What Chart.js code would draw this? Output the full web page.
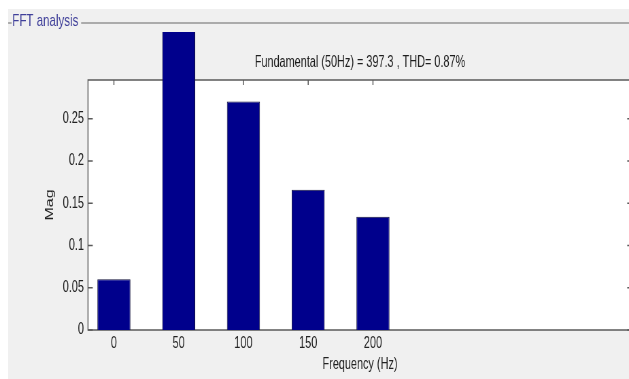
<!DOCTYPE html>
<html>
<head>
<meta charset="utf-8">
<script src="https://cdn.jsdelivr.net/npm/chart.js@4.4.1/dist/chart.umd.min.js"></script>
<style>
  html, body { margin: 0; padding: 0; background: #ffffff; overflow: hidden; width: 629px; height: 379px; }
  /* the figure is laid out wide and then condensed horizontally */
  #panel { position: absolute; left: 0; top: 0; width: 940px; height: 379px;
           transform: scaleX(0.68); transform-origin: 0 0; }
</style>
</head>
<body>
<div id="panel"><canvas id="fft" width="940" height="379"></canvas></div>
<script>
// Harmonic spectrum (frequency in Hz, magnitude)
const harmonicFreqs = [0, 50, 100, 150, 200];
const harmonicMags  = [0.060, 397.3, 0.2705, 0.166, 0.134];
const magTicks      = [0, 0.05, 0.1, 0.15, 0.2, 0.25];
const thdPercent    = 0.87;

const panelTitle = 'FFT analysis';
const fftSummary = 'Fundamental (50Hz) = ' + harmonicMags[1] + ' , THD= ' + thdPercent + '%';

const FONT = '"Liberation Sans", Arial, Helvetica, sans-serif';
const AXIS_COLOR = '#5a5a5a';
const TICK_LEN = 7;

const figureFrame = {
  id: 'figureFrame',
  beforeDraw(chart) {
    const { ctx, width, height, chartArea: a } = chart;
    ctx.save();
    ctx.fillStyle = '#ffffff';
    ctx.fillRect(0, 0, width, height);
    ctx.fillStyle = '#f0f0f0';
    ctx.fillRect(12, 9, width - 12, height - 9);

    // group box rule with its caption
    ctx.font = '17px ' + FONT;
    ctx.textBaseline = 'middle';
    ctx.textAlign = 'left';
    const capX = 18;
    const capW = ctx.measureText(panelTitle).width;
    ctx.strokeStyle = '#ababab';
    ctx.lineWidth = 2;
    ctx.beginPath();
    ctx.moveTo(12, 23); ctx.lineTo(capX - 1, 23);
    ctx.moveTo(capX + capW + 4, 23); ctx.lineTo(width, 23);
    ctx.stroke();
    ctx.fillStyle = '#40409a';
    ctx.fillText(panelTitle, capX, 21);

    // summary line above the axes
    ctx.font = '16px ' + FONT;
    ctx.fillStyle = '#1e1e1e';
    ctx.textAlign = 'center';
    ctx.fillText(fftSummary, (a.left + a.right) / 2, 63);

    // plot background
    ctx.fillStyle = '#ffffff';
    ctx.fillRect(a.left, a.top, a.right - a.left, a.bottom - a.top);
    ctx.restore();
  },
  beforeDatasetsDraw(chart) {
    const { ctx, chartArea: a, scales: { x, y } } = chart;
    ctx.save();
    ctx.strokeStyle = AXIS_COLOR;
    ctx.lineWidth = 1.5;
    ctx.strokeRect(a.left, a.top, a.right - a.left, a.bottom - a.top);
    ctx.beginPath();
    // inward tick marks on all four sides
    magTicks.forEach(v => {
      const py = y.getPixelForValue(v);
      ctx.moveTo(a.left, py);  ctx.lineTo(a.left + TICK_LEN, py);
      ctx.moveTo(a.right, py); ctx.lineTo(a.right - TICK_LEN, py);
    });
    harmonicFreqs.forEach(v => {
      const px = x.getPixelForValue(v);
      ctx.moveTo(px, a.top);    ctx.lineTo(px, a.top + 5);
      ctx.moveTo(px, a.bottom); ctx.lineTo(px, a.bottom - 5);
    });
    ctx.stroke();
    ctx.restore();
  }
};

new Chart(document.getElementById('fft'), {
  type: 'bar',
  data: {
    datasets: [{
      label: 'Mag',
      data: harmonicFreqs.map((f, i) => ({ x: f, y: harmonicMags[i] })),
      backgroundColor: '#00008c',
      borderColor: '#14143c',
      borderWidth: 1,
      borderSkipped: 'bottom',
      barPercentage: 1,
      categoryPercentage: 0.51,
      // the fundamental runs past the top of the axes up to the panel edge
      clip: { left: 0, top: 48, right: 0, bottom: 0 }
    }]
  },
  options: {
    responsive: false,
    animation: false,
    devicePixelRatio: 1,
    layout: { padding: { left: 0, top: 80, right: 10.6, bottom: 0 } },
    plugins: { legend: { display: false }, tooltip: { enabled: false }, title: { display: false } },
    scales: {
      x: {
        type: 'linear',
        position: 'bottom',
        min: -20,
        max: 400,
        offset: false,
        grid: { display: false, drawTicks: false },
        border: { display: false },
        afterBuildTicks: s => { s.ticks = harmonicFreqs.map(v => ({ value: v })); },
        afterFit: s => { s.height = 49; },
        ticks: {
          autoSkip: false, maxRotation: 0,
          padding: 4,
          color: '#222222',
          font: { family: FONT, size: 16 },
          callback: v => String(v)
        },
        title: {
          display: true, text: 'Frequency (Hz)',
          color: '#222222',
          font: { family: FONT, size: 16 },
          padding: { top: 0, bottom: 4.4 }
        }
      },
      y: {
        type: 'linear',
        position: 'left',
        min: 0,
        max: 0.296,
        grid: { display: false, drawTicks: false },
        border: { display: false },
        afterBuildTicks: s => { s.ticks = magTicks.map(v => ({ value: v })); },
        afterFit: s => { s.width = 129.4; },
        ticks: {
          autoSkip: false,
          padding: 6,
          color: '#222222',
          font: { family: FONT, size: 16 },
          callback: v => String(v)
        },
        title: {
          display: true, text: 'Mag',
          color: '#222222',
          font: { family: FONT, size: 16 },
          padding: { top: 64, bottom: 0 }
        }
      }
    }
  },
  plugins: [figureFrame]
});
</script>
</body>
</html>
